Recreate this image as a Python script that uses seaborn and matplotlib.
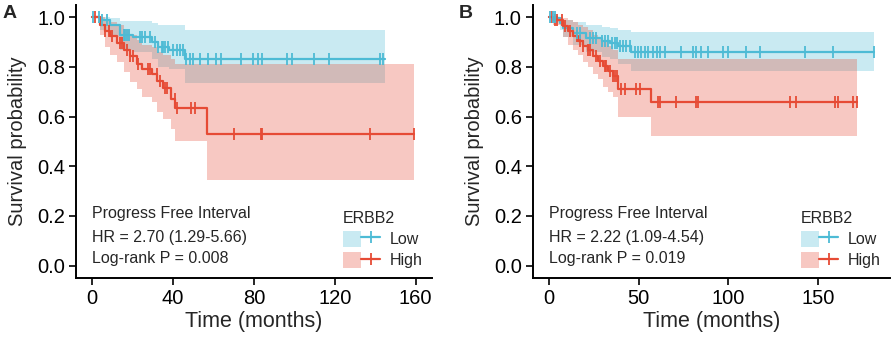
import numpy as np
import pandas as pd
import matplotlib.pyplot as plt
import seaborn as sns
from matplotlib.lines import Line2D
from matplotlib.patches import Patch
from matplotlib.legend_handler import HandlerTuple

sns.set_style('white')
plt.rcParams['font.family'] = ['Liberation Sans', 'DejaVu Sans']

colors = {'Low': '#4DBBD5', 'High': '#E64B35'}

# Panel A - step curves (time in months)
a_low_time = [0, 4, 9, 14, 20, 29.5, 32.5, 38, 46, 145]
a_low_surv = [1.0, 0.99, 0.97, 0.93, 0.92, 0.90, 0.88, 0.87, 0.833, 0.833]
a_low_lower = [1.0, 0.95, 0.92, 0.87, 0.86, 0.83, 0.80, 0.79, 0.734, 0.734]
a_low_upper = [1.0, 1.0, 0.995, 0.985, 0.985, 0.975, 0.97, 0.967, 0.95, 0.95]
a_low_censor = [0.5, 3.3, 4.9, 7.4, 15.5, 16.3, 17.2, 18, 23.7, 24.5, 26.2, 28.6,
                31.1, 32.7, 34.3, 35.2, 36, 37.6, 40.1, 41.7, 43.3, 45, 46.6, 48.3,
                49.9, 53.2, 57.2, 61.3, 63.8, 73.6, 79.3, 81.8, 84.2, 96.5, 98.9,
                109.6, 116.9, 142.3, 144]

a_high_time = [0, 4, 6.5, 9, 12.3, 15.5, 18.8, 22, 24.5, 29.5, 32, 35, 39, 41, 57, 159.2]
a_high_surv = [1.0, 0.97, 0.944, 0.924, 0.897, 0.87, 0.843, 0.81, 0.79, 0.77, 0.743,
               0.716, 0.67, 0.633, 0.529, 0.529]
a_high_lower = [1.0, 0.93, 0.88, 0.85, 0.82, 0.78, 0.74, 0.71, 0.68, 0.66, 0.62, 0.59,
                0.55, 0.50, 0.344, 0.344]
a_high_upper = [1.0, 1.0, 0.99, 0.98, 0.97, 0.95, 0.93, 0.91, 0.89, 0.88, 0.86, 0.85,
                0.83, 0.81, 0.81, 0.81]
a_high_censor = [1.6, 6.5, 8.2, 9.8, 13.9, 14.7, 17.2, 18.8, 20.4, 22.9, 27.8, 28.6,
                 31.9, 33.5, 36, 36.8, 40.9, 41.7, 49.1, 50.7, 70.3, 83.4, 83.9,
                 137.4, 159.2]

# Panel B
b_low_time = [0, 4.1, 5.9, 7.8, 13.4, 20.8, 29.2, 33.8, 38.5, 45.9, 181]
b_low_surv = [1.0, 0.995, 0.977, 0.957, 0.937, 0.917, 0.904, 0.897, 0.884, 0.859, 0.859]
b_low_lower = [1.0, 0.98, 0.95, 0.92, 0.89, 0.86, 0.84, 0.83, 0.81, 0.783, 0.783]
b_low_upper = [1.0, 1.0, 1.0, 0.99, 0.98, 0.967, 0.96, 0.955, 0.95, 0.941, 0.941]
b_low_censor = [0.4, 2.2, 3.2, 15.3, 17.1, 22.7, 24.5, 26.4, 29.2, 31, 32.9, 34.8,
                36.6, 37.6, 39.4, 41.3, 43.1, 45, 47.8, 49.6, 51.5, 53.3, 55.2, 58,
                59.9, 61.7, 64.5, 73.8, 80.3, 82.1, 84.9, 88.7, 97, 99.8, 110, 117.5,
                142.5, 158.3, 181]

b_high_time = [0, 2.3, 7.8, 10.6, 13.4, 16.2, 18.9, 21.8, 24.5, 27.3, 30.1, 32.9, 35.7,
               38.5, 57, 172]
b_high_surv = [1.0, 0.99, 0.964, 0.944, 0.924, 0.904, 0.884, 0.87, 0.843, 0.823, 0.803,
               0.783, 0.763, 0.712, 0.659, 0.659]
b_high_lower = [1.0, 0.97, 0.92, 0.89, 0.87, 0.85, 0.82, 0.80, 0.77, 0.75, 0.72, 0.70,
                0.68, 0.60, 0.522, 0.522]
b_high_upper = [1.0, 1.0, 0.995, 0.99, 0.98, 0.97, 0.96, 0.95, 0.93, 0.915, 0.9, 0.885,
                0.87, 0.833, 0.833, 0.833]
b_high_censor = [1.3, 3.2, 4.1, 6.9, 8.7, 11.5, 15.3, 17.1, 18.9, 21.8, 22.7, 26.4, 28.3,
                 31, 31.9, 33.8, 35.7, 36.6, 37.6, 40.3, 42.2, 48.7, 50.6, 60.8, 61.7,
                 70.6, 81.8, 83.1, 134.2, 137.5, 159.3, 161.1, 169.5, 171.7]

panels = [
    dict(label='A', ticks=[0, 40, 80, 120, 160], tmax=160,
         hr='HR = 2.70 (1.29-5.66)', p='Log-rank P = 0.008',
         groups={'Low': (a_low_time, a_low_surv, a_low_lower, a_low_upper, a_low_censor),
                 'High': (a_high_time, a_high_surv, a_high_lower, a_high_upper, a_high_censor)}),
    dict(label='B', ticks=[0, 50, 100, 150], tmax=181,
         hr='HR = 2.22 (1.09-4.54)', p='Log-rank P = 0.019',
         groups={'Low': (b_low_time, b_low_surv, b_low_lower, b_low_upper, b_low_censor),
                 'High': (b_high_time, b_high_surv, b_high_lower, b_high_upper, b_high_censor)}),
]

fig = plt.figure(figsize=(8.92, 3.45), dpi=100)
axes = [fig.add_axes([0.0852, 0.194, 0.399, 0.792]),
        fig.add_axes([0.5975, 0.194, 0.400, 0.792])]

for ax, pan in zip(axes, panels):
    curves, marks = [], []
    for g, (t, s, lo, up, cens) in pan['groups'].items():
        ax.fill_between(t, lo, up, step='post', color=colors[g], alpha=0.3, lw=0)
        curves.append(pd.DataFrame({'time': t, 'surv': s, 'group': g}))
        idx = np.searchsorted(t, cens, side='right') - 1
        marks.append(pd.DataFrame({'time': cens, 'surv': np.array(s)[idx], 'group': g}))
    curves = pd.concat(curves)
    marks = pd.concat(marks)
    sns.lineplot(data=curves, x='time', y='surv', hue='group', palette=colors,
                 estimator=None, sort=False, drawstyle='steps-post', lw=1.6,
                 legend=False, ax=ax)
    for g, d in marks.groupby('group'):
        ax.plot(d['time'], d['surv'], ls='none', marker='|', ms=8, mew=1.3,
                color=colors[g])

    tmax = pan['tmax']
    ax.set_xlim(-0.05 * tmax, 1.05 * tmax)
    ax.set_ylim(-0.05, 1.05)
    ax.set_xticks(pan['ticks'])
    ax.set_yticks([0, 0.2, 0.4, 0.6, 0.8, 1.0])
    ax.set_yticklabels(['0.0', '0.2', '0.4', '0.6', '0.8', '1.0'])
    ax.tick_params(axis='both', labelsize=14.5, length=5, width=1.2, direction='out',
                   bottom=True, left=True, colors='black', pad=3)
    for sp in ['top', 'right']:
        ax.spines[sp].set_visible(False)
    for sp in ['left', 'bottom']:
        ax.spines[sp].set_linewidth(1.4)
        ax.spines[sp].set_color('black')
    ax.set_xlabel('Time (months)', fontsize=15.5, labelpad=2)
    ax.set_ylabel('Survival probability', fontsize=14.5, labelpad=7)

    ax.text(0, 0.208, 'Progress Free Interval', fontsize=11.5, va='center', ha='left')
    ax.text(0, 0.115, pan['hr'], fontsize=11.5, va='center', ha='left')
    ax.text(0, 0.027, pan['p'], fontsize=11.5, va='center', ha='left')

    handles = [(Patch(facecolor=colors[g], alpha=0.3, lw=0),
                Line2D([], [], color=colors[g], lw=1.6, marker='|', ms=9, mew=1.3))
               for g in ['Low', 'High']]
    ax.legend(handles, ['Low', 'High'], title='ERBB2', title_fontsize=11.5,
              fontsize=11.5, handler_map={tuple: HandlerTuple(ndivide=None, pad=0)},
              frameon=False, loc='lower right', bbox_to_anchor=(1.0, 0.0),
              handlelength=2.3, handleheight=1.2, labelspacing=0.3,
              handletextpad=0.6, borderaxespad=0.2, alignment='left')

    fig.text(0.003 if pan['label'] == 'A' else 0.514, 0.985, pan['label'],
             fontsize=14, fontweight='bold', va='top', ha='left')

fig.savefig('out.png', dpi=100)
